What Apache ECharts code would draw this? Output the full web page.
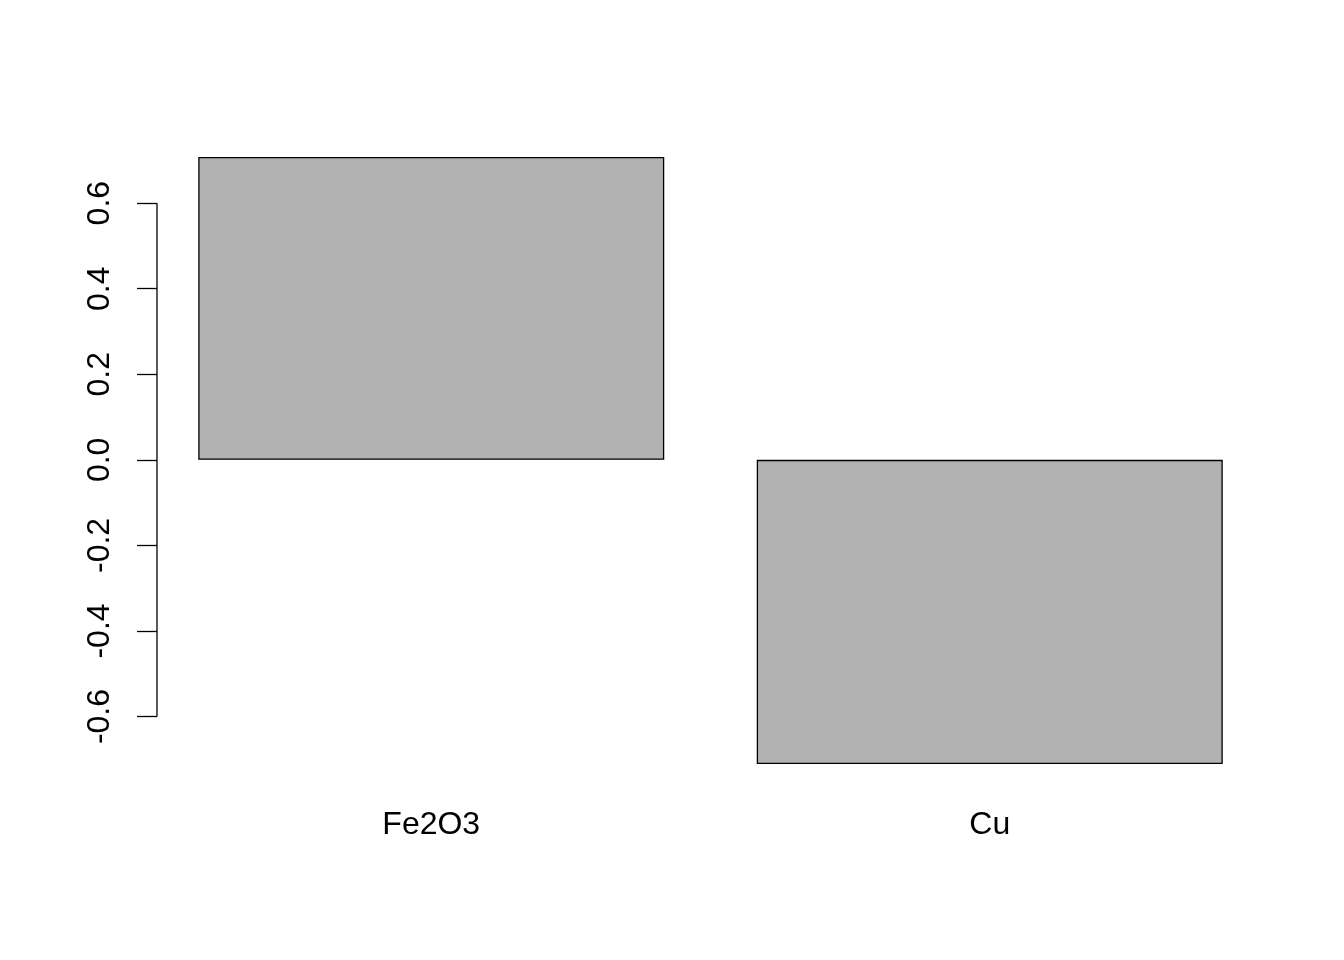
<!DOCTYPE html>
<html><head><meta charset="utf-8">
<script src="https://cdn.jsdelivr.net/npm/echarts@6/dist/echarts.min.js"></script>
<style>html,body{margin:0;padding:0;background:#fff}#c{width:1344px;height:960px}</style>
</head><body><div id="c"></div>
<script>
var categories = ['Fe2O3', 'Cu'];
var values = [0.708, -0.711];
var yTicks = [-0.6, -0.4, -0.2, 0.0, 0.2, 0.4, 0.6];

var chart = echarts.init(document.getElementById('c'), null, {renderer: 'canvas'});
var font = 'Liberation Sans, Arial, Helvetica, sans-serif';
chart.setOption({
  animation: false,
  backgroundColor: '#ffffff',
  grid: {left: 152, right: 75, top: 133, bottom: 172, containLabel: false},
  xAxis: {
    type: 'category', data: categories,
    axisLine: {show: false}, axisTick: {show: false},
    axisLabel: {color: '#000', fontFamily: font, fontSize: 32, margin: 21}
  },
  yAxis: {
    type: 'value', min: -0.767, max: 0.764, offset: -5,
    splitLine: {show: false},
    axisLine: {show: false},
    axisTick: {show: true, length: 20, customValues: yTicks, lineStyle: {color: '#000', width: 1.3}},
    axisLabel: {
      customValues: yTicks, rotate: 90, margin: 41, color: '#000', fontFamily: font, fontSize: 32,
      formatter: function (v) { return v.toFixed(1); }
    }
  },
  series: [{
    type: 'bar', data: values, barWidth: 466,
    itemStyle: {color: '#B2B2B2', borderColor: '#000', borderWidth: 1.3}
  }]
});
var p0 = chart.convertToPixel({yAxisIndex: 0}, yTicks[0]);
var p1 = chart.convertToPixel({yAxisIndex: 0}, yTicks[yTicks.length - 1]);
chart.setOption({
  graphic: [{type: 'line', shape: {x1: 157, y1: p0, x2: 157, y2: p1}, style: {stroke: '#000', lineWidth: 1.3}}]
});
</script></body></html>
